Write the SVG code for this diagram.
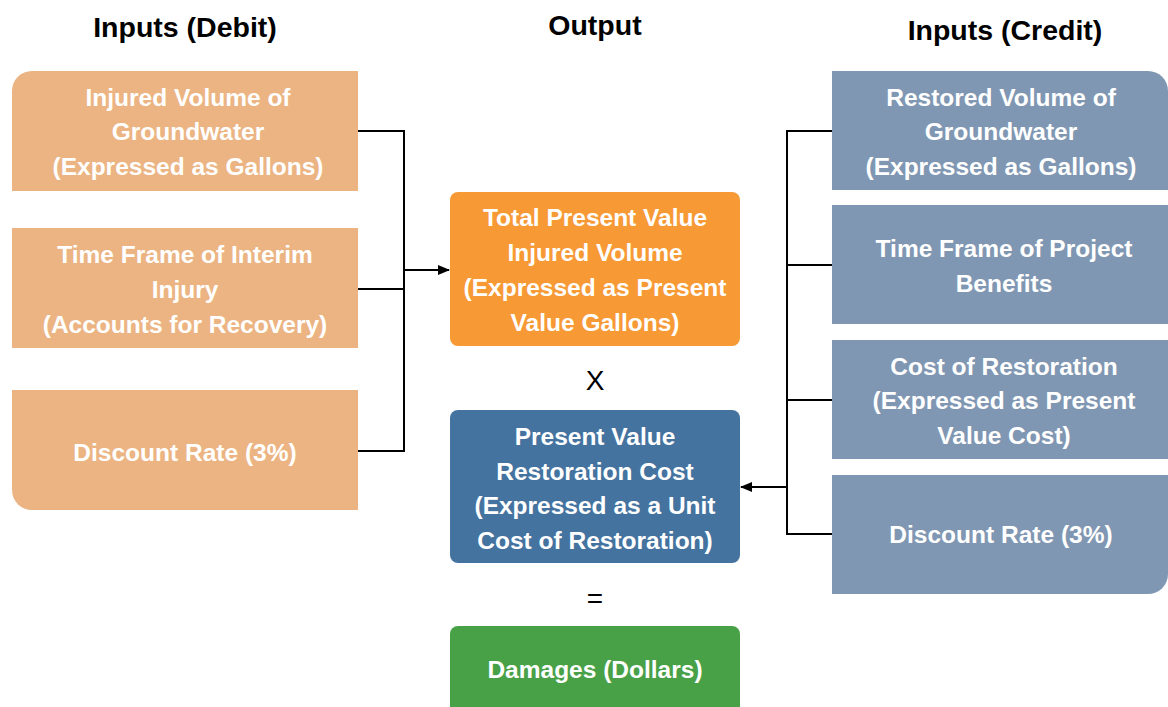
<svg xmlns="http://www.w3.org/2000/svg" width="1168" height="707" viewBox="0 0 1168 707">
<style>
.h{font-family:"Liberation Sans",Arial,sans-serif;font-weight:bold;font-size:28.5px;fill:#000;text-anchor:middle}
.t{font-family:"Liberation Sans",Arial,sans-serif;font-weight:bold;font-size:24.5px;fill:#fff;text-anchor:middle}
.op{font-family:"Liberation Sans",Arial,sans-serif;font-size:28px;fill:#000;text-anchor:middle}
.deb{fill:#EBB482}
.cre{fill:#7F97B2}
.ln{fill:none;stroke:#000;stroke-width:2}
</style>
<defs>
<marker id="ah" markerWidth="12" markerHeight="10" refX="11" refY="5" orient="auto" markerUnits="userSpaceOnUse">
<path d="M0,0 L12,5 L0,10 z" fill="#000"/>
</marker>
</defs>
<rect width="1168" height="707" fill="#fff"/>
<g id="headers">
<text class="h" x="185" y="37">Inputs (Debit)</text>
<text class="h" x="595" y="35">Output</text>
<text class="h" x="1005" y="40">Inputs (Credit)</text>
</g>
<g id="connectors">
<path class="ln" d="M358,131 H404 V451 H358 M358,289 H404"/>
<path class="ln" d="M404,270 H449" marker-end="url(#ah)"/>
<path class="ln" d="M832,131 H787 V534 H832 M787,265 H832 M787,400 H832"/>
<path class="ln" d="M787,487 H741" marker-end="url(#ah)"/>
</g>
<g id="debit1">
<path class="deb" d="M12,191 V91 A20,20 0 0 1 32,71 H358 V191 Z"/>
<text class="t" x="188" y="106">Injured Volume of</text>
<text class="t" x="188" y="140">Groundwater</text>
<text class="t" x="188" y="175">(Expressed as Gallons)</text>
</g>
<g id="debit2">
<rect class="deb" x="12" y="228" width="346" height="120"/>
<text class="t" x="185" y="263">Time Frame of Interim</text>
<text class="t" x="185" y="298">Injury</text>
<text class="t" x="185" y="333">(Accounts for Recovery)</text>
</g>
<g id="debit3">
<path class="deb" d="M12,390 H358 V510 H32 A20,20 0 0 1 12,490 Z"/>
<text class="t" x="185" y="461">Discount Rate (3%)</text>
</g>
<g id="total">
<rect x="450" y="192" width="290" height="154" rx="8" fill="#F79934"/>
<text class="t" x="595" y="226">Total Present Value</text>
<text class="t" x="595" y="261">Injured Volume</text>
<text class="t" x="595" y="296">(Expressed as Present</text>
<text class="t" x="595" y="331">Value Gallons)</text>
</g>
<text class="op" x="595" y="390">X</text>
<g id="restcost">
<rect x="450" y="410" width="290" height="153" rx="8" fill="#44739F"/>
<text class="t" x="595" y="445">Present Value</text>
<text class="t" x="595" y="480">Restoration Cost</text>
<text class="t" x="595" y="514">(Expressed as a Unit</text>
<text class="t" x="595" y="549">Cost of Restoration)</text>
</g>
<text class="op" x="595" y="608">=</text>
<g id="damages">
<path d="M450,707 V634 A8,8 0 0 1 458,626 H732 A8,8 0 0 1 740,634 V707 Z" fill="#48A047"/>
<text class="t" x="595" y="678">Damages (Dollars)</text>
</g>
<g id="credit1">
<path class="cre" d="M832,71 H1148 A20,20 0 0 1 1168,91 V190 H832 Z"/>
<text class="t" x="1001" y="106">Restored Volume of</text>
<text class="t" x="1001" y="140">Groundwater</text>
<text class="t" x="1001" y="175">(Expressed as Gallons)</text>
</g>
<g id="credit2">
<rect class="cre" x="832" y="205" width="336" height="119"/>
<text class="t" x="1004" y="257">Time Frame of Project</text>
<text class="t" x="1004" y="292">Benefits</text>
</g>
<g id="credit3">
<rect class="cre" x="832" y="340" width="336" height="119"/>
<text class="t" x="1004" y="375">Cost of Restoration</text>
<text class="t" x="1004" y="409">(Expressed as Present</text>
<text class="t" x="1004" y="444">Value Cost)</text>
</g>
<g id="credit4">
<path class="cre" d="M832,475 H1168 V574 A20,20 0 0 1 1148,594 H832 Z"/>
<text class="t" x="1001" y="543">Discount Rate (3%)</text>
</g>
</svg>
